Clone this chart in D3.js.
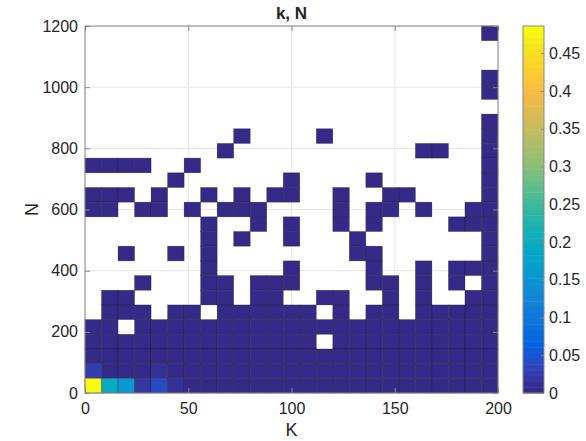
<!DOCTYPE html>
<html>
<head>
<meta charset="utf-8">
<script src="https://cdn.jsdelivr.net/npm/d3@7"></script>
<style>
  body { margin: 0; background: #fff; }
  text { font-family: "Liberation Sans", Arial, Helvetica, sans-serif; fill: #262626; }
</style>
</head>
<body>
<div id="chart"></div>
<script>
// Bin left edges (K across, N down the page from top row to bottom row)
const kBins = [0, 8, 16, 24, 32, 40, 48, 56, 64, 72, 80, 88, 96, 104, 112, 120, 128, 136, 144, 152, 160, 168, 176, 184, 192];
const nBins = [1152, 1104, 1056, 1008, 960, 912, 864, 816, 768, 720, 672, 624, 576, 528, 480, 432, 384, 336, 288, 240, 192, 144, 96, 48, 0];
const binW = 8, binH = 48;

const xTicks = [0, 50, 100, 150, 200];
const yTicks = [0, 200, 400, 600, 800, 1000, 1200];
const cTicks = [0, 0.05, 0.1, 0.15, 0.2, 0.25, 0.3, 0.35, 0.4, 0.45];

// cell values, one row per N bin (top row first); _ = empty cell, o = near-zero value
const _ = null, o = 0.004;
const cells = [
  [_,_,_,_,_,_,_,_,_,_,_,_,_,_,_,_,_,_,_,_,_,_,_,_,o],
  [_,_,_,_,_,_,_,_,_,_,_,_,_,_,_,_,_,_,_,_,_,_,_,_,_],
  [_,_,_,_,_,_,_,_,_,_,_,_,_,_,_,_,_,_,_,_,_,_,_,_,_],
  [_,_,_,_,_,_,_,_,_,_,_,_,_,_,_,_,_,_,_,_,_,_,_,_,o],
  [_,_,_,_,_,_,_,_,_,_,_,_,_,_,_,_,_,_,_,_,_,_,_,_,o],
  [_,_,_,_,_,_,_,_,_,_,_,_,_,_,_,_,_,_,_,_,_,_,_,_,_],
  [_,_,_,_,_,_,_,_,_,_,_,_,_,_,_,_,_,_,_,_,_,_,_,_,o],
  [_,_,_,_,_,_,_,_,_,o,_,_,_,_,o,_,_,_,_,_,_,_,_,_,o],
  [_,_,_,_,_,_,_,_,o,_,_,_,_,_,_,_,_,_,_,_,o,o,_,_,o],
  [o,o,o,o,_,_,o,_,_,_,_,_,_,_,_,_,_,_,_,_,_,_,_,_,o],
  [_,_,_,_,_,o,_,_,_,_,_,_,o,_,_,_,_,o,_,_,_,_,_,_,o],
  [o,o,o,_,o,_,_,o,_,o,_,o,o,_,_,o,_,_,o,o,_,_,_,_,o],
  [o,o,_,o,o,_,o,_,o,o,o,_,_,_,_,o,_,o,o,_,o,_,_,o,o],
  [_,_,_,_,_,_,_,o,_,_,o,_,o,_,_,o,_,o,_,_,_,_,o,o,o],
  [_,_,_,_,_,_,_,o,_,o,_,_,o,_,_,_,o,_,_,_,_,_,_,_,o],
  [_,_,o,_,_,o,_,o,_,_,_,_,_,_,_,_,o,o,_,_,_,_,_,_,o],
  [_,_,_,_,_,_,_,o,_,_,_,_,o,_,_,_,_,o,_,_,o,_,o,o,o],
  [_,_,_,o,_,_,_,o,o,_,o,o,o,_,_,_,_,o,o,_,o,_,o,_,o],
  [_,o,o,_,_,_,_,o,o,_,o,o,_,_,o,o,_,_,o,_,o,_,_,o,o],
  [_,o,o,o,_,o,o,_,o,o,o,o,o,o,_,o,_,o,o,_,o,o,o,o,o],
  [o,o,_,o,o,o,o,o,o,o,o,o,o,o,o,o,o,o,o,o,o,o,o,o,o],
  [o,o,o,o,o,o,o,o,o,o,o,o,o,o,_,o,o,o,o,o,o,o,o,o,o],
  [o,o,o,o,o,o,o,o,o,o,o,o,o,o,o,o,o,o,o,o,o,o,o,o,o],
  [0.025,o,o,o,0.010,o,o,o,o,o,o,o,o,o,o,o,o,o,o,o,o,o,o,o,o],
  [0.486,0.193,0.155,0.018,0.041,0.010,0,o,o,o,o,o,o,o,o,o,o,o,o,o,o,o,o,o,o]
];

// parula colormap key colours
const parulaStops = ["#352a87", "#3243ba", "#0363e1", "#0d75dc", "#1485d4", "#0998d1", "#06a7c6", "#15b1b4",
  "#38b99e", "#65be86", "#92bf73", "#b7bd64", "#d9ba56", "#f8bb44", "#fcce2e", "#f5e41d", "#f9fb0e"];
const parula = d3.scaleLinear()
  .domain(parulaStops.map((d, i) => i < 16 ? i * 4 / 63 : 1))
  .range(parulaStops)
  .interpolate(d3.interpolateRgb);

const margin = { top: 26, left: 85 };
const width = 413, height = 367;

const svg = d3.select("#chart").append("svg")
  .attr("width", 586)
  .attr("height", 441);

const g = svg.append("g").attr("transform", `translate(${margin.left},${margin.top})`);

const x = d3.scaleLinear().domain([0, 200]).range([0, width]);
const y = d3.scaleLinear().domain([0, 1200]).range([height, 0]);

const flat = cells.flat().filter(v => v !== null);
const cMin = d3.min(flat), cMax = d3.max(flat);
const nColors = 64;
// MATLAB-style discrete colour lookup
const colorOf = v => {
  const idx = Math.min(nColors - 1, Math.floor((v - cMin) / (cMax - cMin) * nColors));
  return parula(idx / (nColors - 1));
};

// grid lines under the cells
g.append("g").selectAll("line").data(xTicks).join("line")
  .attr("x1", d => x(d)).attr("x2", d => x(d))
  .attr("y1", 0).attr("y2", height)
  .attr("stroke", "#e6e6e6");
g.append("g").selectAll("line").data(yTicks).join("line")
  .attr("x1", 0).attr("x2", width)
  .attr("y1", d => y(d)).attr("y2", d => y(d))
  .attr("stroke", "#e6e6e6");

// cells
const cellData = [];
cells.forEach((row, ri) => {
  row.forEach((v, ci) => {
    if (v !== null) cellData.push({ k: kBins[ci], n: nBins[ri], v: v });
  });
});

g.append("g").selectAll("rect").data(cellData).join("rect")
  .attr("x", d => x(d.k))
  .attr("y", d => y(d.n + binH))
  .attr("width", d => x(d.k + binW) - x(d.k))
  .attr("height", d => y(d.n) - y(d.n + binH))
  .attr("fill", d => colorOf(d.v))
  .attr("stroke", "#000")
  .attr("stroke-opacity", 0.4)
  .attr("stroke-width", 0.6);

// axes with inward ticks
const axisColor = "#888";
function styleAxis(sel) {
  sel.select(".domain").remove();
  sel.selectAll(".tick line").attr("stroke", axisColor);
  sel.selectAll(".tick text").style("font-size", "16px").attr("fill", "#262626");
}

g.append("g").attr("transform", `translate(0,${height})`)
  .call(d3.axisBottom(x).tickValues(xTicks).tickSize(-5).tickPadding(10).tickFormat(d3.format("d")))
  .call(styleAxis);
g.append("g")
  .call(d3.axisTop(x).tickValues(xTicks).tickSize(-5).tickFormat(""))
  .call(styleAxis);
g.append("g")
  .call(d3.axisLeft(y).tickValues(yTicks).tickSize(-5).tickPadding(7).tickFormat(d3.format("d")))
  .call(styleAxis);
g.append("g").attr("transform", `translate(${width},0)`)
  .call(d3.axisRight(y).tickValues(yTicks).tickSize(-5).tickFormat(""))
  .call(styleAxis);

g.append("rect")
  .attr("width", width).attr("height", height)
  .attr("fill", "none").attr("stroke", axisColor);

// title and labels
svg.append("text")
  .attr("x", margin.left + width / 2).attr("y", 19)
  .attr("text-anchor", "middle")
  .style("font-size", "17px").style("font-weight", "bold")
  .text("k, N");

svg.append("text")
  .attr("x", margin.left + width / 2).attr("y", 436)
  .attr("text-anchor", "middle")
  .style("font-size", "18px")
  .text("K");

svg.append("text")
  .attr("transform", `translate(38,${margin.top + height / 2}) rotate(-90)`)
  .attr("text-anchor", "middle")
  .style("font-size", "18px")
  .text("N");

// colorbar
const cb = svg.append("g").attr("transform", `translate(523,${margin.top})`);
const cbW = 21;
const cy = d3.scaleLinear().domain([cMin, cMax]).range([height, 0]);
const steps = d3.range(nColors);
cb.selectAll("rect.step").data(steps).join("rect")
  .attr("class", "step")
  .attr("x", 0).attr("width", cbW)
  .attr("y", i => cy(cMin + (i + 1) * (cMax - cMin) / nColors))
  .attr("height", height / nColors + 0.5)
  .attr("fill", i => parula(i / (nColors - 1)));

cb.append("g").attr("transform", `translate(${cbW},0)`)
  .call(d3.axisRight(cy).tickValues(cTicks).tickSize(-3).tickPadding(5).tickFormat(d3.format("~g")))
  .call(styleAxis);

cb.append("rect")
  .attr("width", cbW).attr("height", height)
  .attr("fill", "none").attr("stroke", axisColor);
</script>
</body>
</html>
